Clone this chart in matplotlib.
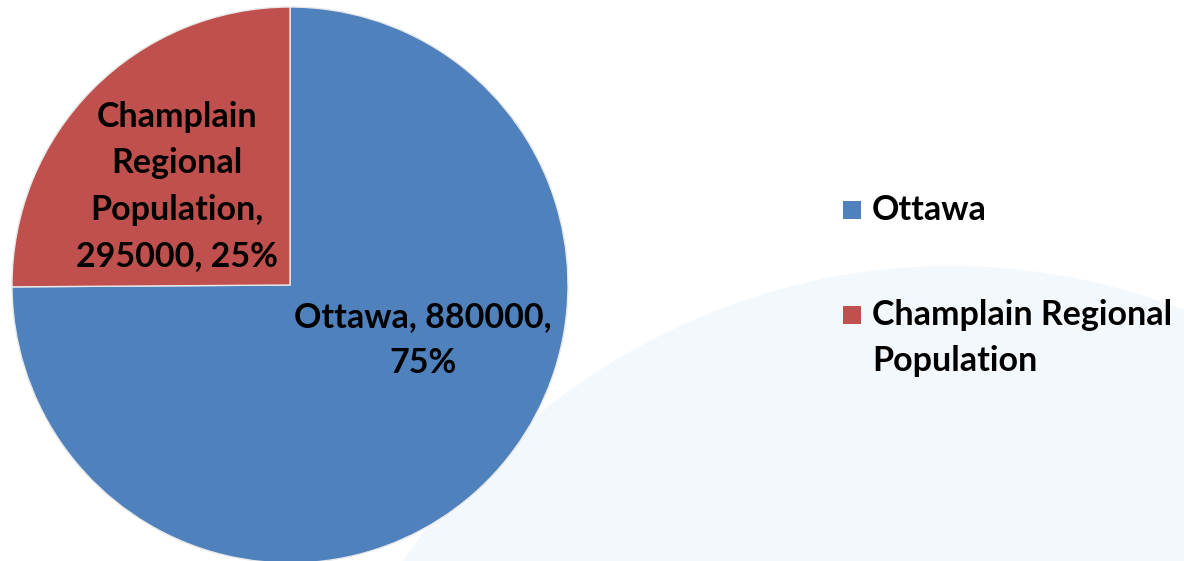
import matplotlib
matplotlib.use("Agg")
import matplotlib.pyplot as plt
from matplotlib.patches import Ellipse, Rectangle
import numpy as np

# Population split
categories = ["Ottawa", "Champlain Regional Population"]
populations = [880000, 295000]
percent_labels = ["75%", "25%"]
legend_labels = ["Ottawa", "Champlain Regional\nPopulation"]
slice_labels = ["Ottawa, 880000,\n75%", "Champlain\nRegional\nPopulation,\n295000, 25%"]

colors = ["#4f81bd", "#c0504d"]
FONT = "Lato"
FS = 24.5
LS = 1.55

W, H = 1184, 561
fig = plt.figure(figsize=(W / 100, H / 100), dpi=100)
fig.patch.set_facecolor("white")

# Soft decorative backdrop behind the legend
bg = fig.add_axes([0, 0, 1, 1])
bg.set_xlim(0, W)
bg.set_ylim(H, 0)
bg.axis("off")
bg.add_patch(Ellipse((951, 989), 2 * 680, 2 * 723, facecolor="#f3f8fc",
                     edgecolor="none"))

# Pie
cx, cy, r = 290, 285, 278
ax = fig.add_axes([(cx - r) / W, (H - cy - r) / H, 2 * r / W, 2 * r / H])
wedges, _ = ax.pie(populations, colors=colors, startangle=90, counterclock=False,
                   radius=1.0,
                   wedgeprops=dict(edgecolor="#e8e8e8", linewidth=1.0))
ax.set_xlim(-1, 1)
ax.set_ylim(-1, 1)
ax.set_aspect("equal")
ax.axis("off")

# Data label placement (angle in degrees, radius as fraction of pie radius)
label_pos = [(-22.5, 0.518), (139.0, 0.54)]
for w, text, (ang, dist) in zip(wedges, slice_labels, label_pos):
    x = dist * np.cos(np.deg2rad(ang))
    y = dist * np.sin(np.deg2rad(ang))
    ax.text(x, y, text, ha="center", va="center", fontsize=FS,
            fontweight="bold", family=FONT, linespacing=LS, color="black")

# Legend
items_y = [210, 315]
for col, lab, yy in zip(colors, legend_labels, items_y):
    fig.patches.append(Rectangle(((843) / W, 1 - (yy + 9) / H), 18 / W, 18 / H,
                                 transform=fig.transFigure, facecolor=col,
                                 edgecolor="none"))
    fig.text(872 / W, 1 - (yy - 16) / H, lab, ha="left", va="top", fontsize=FS,
             fontweight="bold", family=FONT, linespacing=LS, color="black")

fig.savefig("out.png", dpi=100)
